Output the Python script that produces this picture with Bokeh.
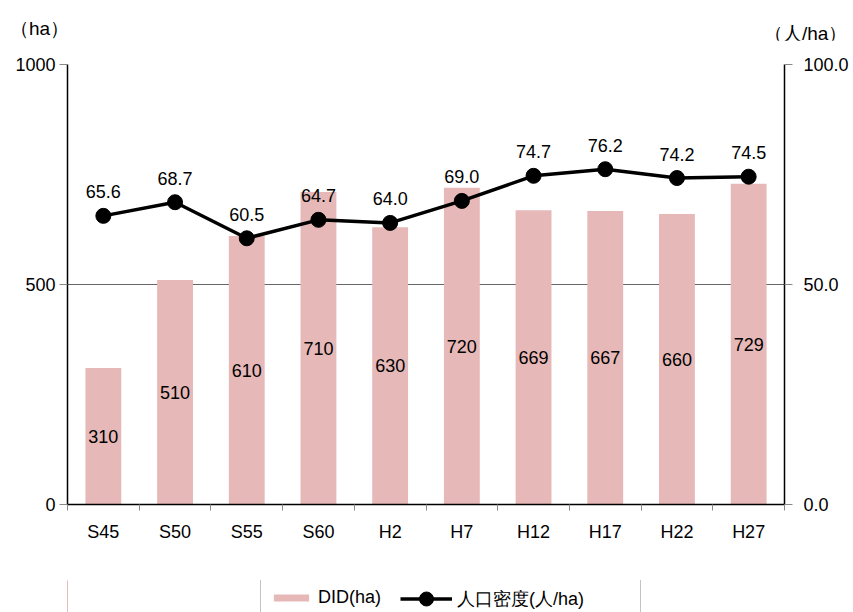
from bokeh.plotting import figure
from bokeh.models import (Range1d, LinearAxis, FixedTicker, NumeralTickFormatter,
                          Legend, LegendItem, ColumnDataSource, Div)
from bokeh.layouts import column
from bokeh.core.properties import value
from bokeh.embed import file_html
from bokeh.resources import INLINE

categories = ["S45", "S50", "S55", "S60", "H2", "H7", "H12", "H17", "H22", "H27"]
did_ha = [310, 510, 610, 710, 630, 720, 669, 667, 660, 729]
density = [65.6, 68.7, 60.5, 64.7, 64.0, 69.0, 74.7, 76.2, 74.2, 74.5]
left_ticks = [0, 500, 1000]
right_ticks = [0, 50, 100]
left_unit = "（ha）"
right_unit = "（人/ha）"
series_names = ["DID(ha)", "人口密度(人/ha)"]

FONT = "Liberation Sans"
FS = "18px"
BAR_COLOR = "#E6B8B7"

xs = [i + 0.5 for i in range(len(categories))]
src = ColumnDataSource(dict(
    x=xs, did=did_ha, did_mid=[v / 2 for v in did_ha], did_lbl=[str(v) for v in did_ha],
    dens=density, dens_lbl=[f"{v:.1f}" for v in density]))

# ---------------- main chart ----------------
p = figure(width=853, height=532, output_backend="svg", toolbar_location=None,
           x_range=Range1d(0, len(categories)), y_range=Range1d(0, 1000),
           min_border_left=67, min_border_right=69, min_border_top=24, min_border_bottom=68)
p.extra_y_ranges = {"right": Range1d(0, 100)}
p.outline_line_color = None

p.vbar(x="x", top="did", width=0.5, source=src, fill_color=BAR_COLOR, line_color=None)
p.line(x="x", y="dens", source=src, y_range_name="right", line_color="black", line_width=3.5)
p.scatter(x="x", y="dens", source=src, y_range_name="right", size=15,
          fill_color="black", line_color="black")

p.text(x="x", y="did_mid", text="did_lbl", source=src, text_align="center",
       text_baseline="middle", text_font_size=value(FS), text_font=value(FONT), text_color="black")
p.text(x="x", y="dens", text="dens_lbl", source=src, y_range_name="right", y_offset=-24,
       text_align="center", text_baseline="middle", text_font_size=value(FS),
       text_font=value(FONT), text_color="black")

xa = p.xaxis[0]
xa.ticker = FixedTicker(ticks=xs, minor_ticks=list(range(len(categories) + 1)))
xa.major_label_overrides = {x: c for x, c in zip(xs, categories)}
xa.major_tick_line_color = None
xa.major_tick_out = 0
xa.major_tick_in = 0
xa.minor_tick_line_color = "#888888"
xa.minor_tick_out = 6
xa.minor_tick_in = 0
xa.axis_line_color = "black"
xa.axis_line_width = 1.5
xa.major_label_standoff = 11
xa.major_label_text_font = FONT
xa.major_label_text_font_size = FS
xa.major_label_text_color = "black"

ya = p.yaxis[0]
ya.ticker = FixedTicker(ticks=left_ticks)
ya.minor_tick_line_color = None
ya.major_tick_out = 8
ya.major_tick_in = 0
ya.major_tick_line_color = "#888888"
ya.axis_line_color = "black"
ya.axis_line_width = 1.5
ya.major_label_standoff = 4
ya.major_label_text_font = FONT
ya.major_label_text_font_size = FS
ya.major_label_text_color = "black"

ra = LinearAxis(y_range_name="right", ticker=FixedTicker(ticks=right_ticks),
                formatter=NumeralTickFormatter(format="0.0"))
ra.minor_tick_line_color = None
ra.major_tick_out = 8
ra.major_tick_in = 0
ra.major_tick_line_color = "#888888"
ra.axis_line_color = "black"
ra.axis_line_width = 1.5
ra.major_label_standoff = 11
ra.major_label_text_font = FONT
ra.major_label_text_font_size = FS
ra.major_label_text_color = "black"
p.add_layout(ra, "right")

p.xgrid.grid_line_color = None
p.ygrid.ticker = FixedTicker(ticks=[500, 1000])
p.ygrid.grid_line_color = "#666666"
p.ygrid.grid_line_width = 1.2

# ---------------- legend strip (same data, ranges keep marks out of view) ----------------
lg = figure(width=853, height=32, output_backend="svg", toolbar_location=None,
            x_axis_location=None, y_axis_location=None,
            x_range=Range1d(100, 101), y_range=Range1d(0, 1),
            min_border_left=67, min_border_right=69, min_border_top=0, min_border_bottom=0,
            margin=(8, 0, 0, 0))
lg.outline_line_color = None
lg.xgrid.visible = False
lg.ygrid.visible = False

leg_bar = lg.vbar(x="x", top="did", width=0.5, source=src, fill_color=BAR_COLOR, line_color=None)
leg_line = lg.line(x="x", y="dens", source=src, line_color="black", line_width=3.5)
leg_pts = lg.scatter(x="x", y="dens", source=src, size=15, fill_color="black", line_color="black")

common = dict(orientation="horizontal", margin=0, label_standoff=5,
              label_text_font=FONT, label_text_font_size=FS, label_text_color="black")
legA = Legend(items=[LegendItem(label=series_names[0], renderers=[leg_bar])],
              location=(193, -5), glyph_width=44, glyph_height=9, padding=8,
              label_width=314,
              border_line_color="#888888", border_line_width=1,
              background_fill_color="white", background_fill_alpha=1, **common)
legB = Legend(items=[LegendItem(label=series_names[1], renderers=[leg_line, leg_pts])],
              location=(333, -4), glyph_width=52, glyph_height=35, padding=0,
              border_line_color=None, background_fill_alpha=0, **common)
lg.add_layout(legA, "center")
lg.add_layout(legB, "center")

header_html = (
    '<div style="position:relative;width:853px;height:40px;'
    f'font-family:\'{FONT}\';font-size:19px;color:black;">'
    f'<span style="position:absolute;left:10px;top:15px;white-space:nowrap;">{left_unit}</span>'
    f'<span style="position:absolute;left:764px;top:20px;white-space:nowrap;">{right_unit}</span>'
    '</div>'
)
header = Div(text=header_html, width=853, height=40, margin=0)

layout = column(header, p, lg, spacing=0)
open("out.html", "w").write(file_html(layout, INLINE))
